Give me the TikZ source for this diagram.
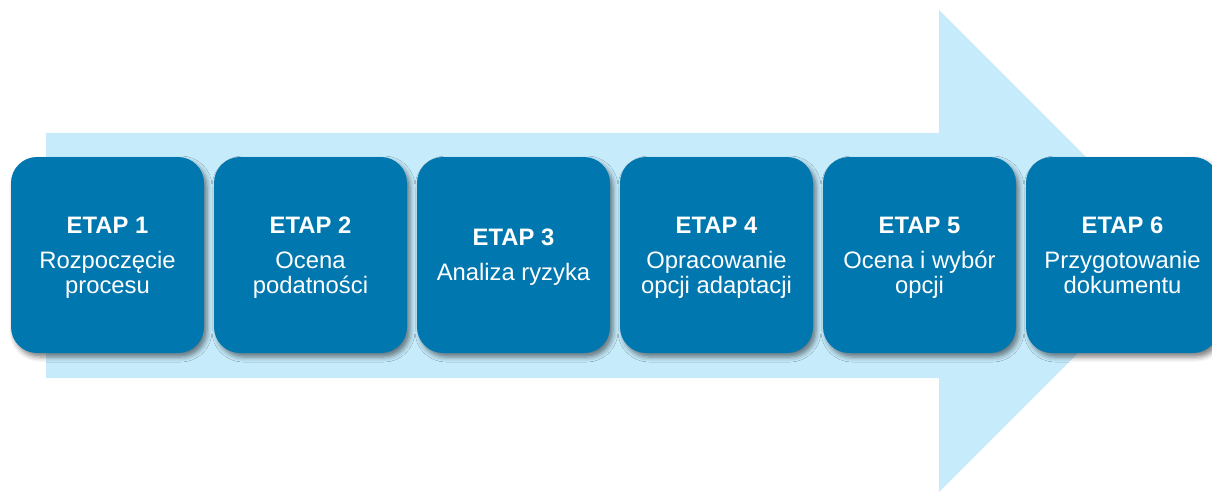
\documentclass[tikz,border=0pt]{standalone}
\usepackage{fontspec}
\setmainfont{Liberation Sans}
\usetikzlibrary{shadows.blur}
\definecolor{lightarrow}{HTML}{C6ECFC}
\definecolor{stepblue}{HTML}{0077AE}
\tikzset{
  stagebox/.style={rectangle, rounded corners=26pt, fill=stepblue, draw=none,
    minimum width=193pt, minimum height=196pt, text=white, align=center,
    inner sep=0pt,
    font=\fontsize{23.8pt}{25pt}\selectfont,
    blur shadow={shadow xshift=3pt, shadow yshift=-4pt, shadow blur radius=5pt, shadow opacity=50}},
}
\newcommand{\etaptitle}[1]{\rule{0pt}{24pt}\textbf{#1}\\[10pt]}
\begin{document}
\begin{tikzpicture}[x=1pt,y=-1pt]
\useasboundingbox (0,0) rectangle (1212,492);
\clip (0,0) rectangle (1212,492);
\fill[lightarrow] (46,133) -- (939,133) -- (939,10) -- (1180,251) -- (939,492) -- (939,378) -- (46,378) -- cycle;
\node[stagebox] (s1) at (107.5,255) {\etaptitle{ETAP 1}Rozpoczęcie\\procesu\strut};
\node[stagebox] (s2) at (310.5,255) {\etaptitle{ETAP 2}Ocena\\podatności\strut};
\node[stagebox] (s3) at (513.5,255) {\etaptitle{ETAP 3}Analiza ryzyka\strut};
\node[stagebox] (s4) at (716.5,255) {\etaptitle{ETAP 4}Opracowanie\\opcji adaptacji\strut};
\node[stagebox] (s5) at (919.5,255) {\etaptitle{ETAP 5}Ocena i wybór\\opcji\strut};
\node[stagebox] (s6) at (1122.5,255) {\etaptitle{ETAP 6}Przygotowanie\\dokumentu\strut};
\end{tikzpicture}
\end{document}
